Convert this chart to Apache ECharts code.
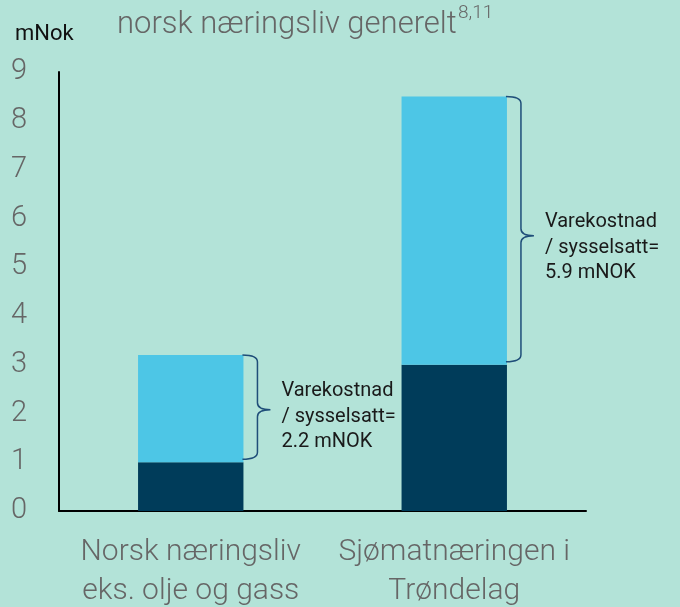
<!DOCTYPE html>
<html>
<head>
<meta charset="utf-8">
<script src="https://cdn.jsdelivr.net/npm/echarts@6/dist/echarts.min.js"></script>
<style>
  html, body { margin: 0; padding: 0; background: #b3e3d8; }
  #chart { width: 680px; height: 607px; }
</style>
</head>
<body>
<div id="chart"></div>
<script>
// Chart data
const categories = ['Norsk næringsliv\neks. olje og gass', 'Sjømatnæringen i\nTrøndelag'];
const baseValues = [1.0, 3.0];      // dark lower segment
const costValues = [2.2, 5.5];      // light upper segment (varekostnad)
const braceLabels = [
    'Varekostnad\n/ sysselsatt=\n2.2 mNOK',
    'Varekostnad\n/ sysselsatt=\n5.9 mNOK'
];
const yTicks = [0, 1, 2, 3, 4, 5, 6, 7, 8, 9];

const GRAY = '#666666';
const BAR_WIDTH_RATIO = 0.4;

const chart = echarts.init(document.getElementById('chart'), null, { renderer: 'canvas' });

// brace data: [category index, bottom, top]
const braceData = categories.map((c, i) => [i, baseValues[i], baseValues[i] + costValues[i]]);

/**
 * Draw a curly brace to the right of the upper bar segment
 */
function renderBrace(params, api) {
    const idx = api.value(0);
    const band = api.size([1, 0])[0];
    const center = api.coord([idx, 0])[0];
    const x0 = center + band * BAR_WIDTH_RATIO / 2 - 1;
    const yBot = api.coord([idx, api.value(1)])[1] - 3;
    const yTop = api.coord([idx, api.value(2)])[1];
    const h = yBot - yTop;
    // tip sits a little below the middle, the text a bit lower still
    const yMid = (yTop + yBot) / 2 + h * 0.025;
    const w = 15, tip = 13, r = 7;
    const xv = x0 + w;
    const path =
        `M${x0},${yTop} Q${xv},${yTop} ${xv},${yTop + r} ` +
        `L${xv},${yMid - r} Q${xv},${yMid} ${xv + tip},${yMid} ` +
        `Q${xv},${yMid} ${xv},${yMid + r} ` +
        `L${xv},${yBot - r} Q${xv},${yBot} ${x0},${yBot}`;
    return {
        type: 'group',
        children: [
            {
                type: 'path',
                shape: { pathData: path },
                style: { fill: null, stroke: '#1f4e79', lineWidth: 1.5 }
            },
            {
                type: 'text',
                x: xv + tip + 11,
                y: yMid + 4 + h * 0.03,
                style: {
                    text: braceLabels[idx],
                    fill: '#1a1a1a',
                    font: '20px Roboto',
                    lineHeight: 25.5,
                    verticalAlign: 'middle',
                    align: 'left'
                }
            }
        ]
    };
}

const option = {
    backgroundColor: '#b3e3d8',
    animation: false,
    title: {
        text: 'norsk næringsliv generelt',
        left: 112,
        top: 5,
        textStyle: { fontFamily: 'Roboto', fontWeight: 300, fontSize: 31, color: GRAY }
    },
    graphic: [
        {
            type: 'text',
            left: 15,
            top: 23,
            style: { text: 'mNok', font: '22px Roboto', fill: '#111' }
        },
        {
            type: 'text',
            left: 458,
            top: 4,
            style: { text: '8,11', font: '300 19px Roboto', fill: GRAY }
        }
    ],
    grid: {
        left: 59,
        right: 94,
        top: 72,
        bottom: 96,
        outerBoundsMode: 'none'
    },
    xAxis: {
        type: 'category',
        data: categories,
        axisLine: { lineStyle: { color: '#000', width: 2 } },
        axisTick: { show: false },
        axisLabel: {
            interval: 0,
            color: GRAY,
            fontFamily: 'Roboto',
            fontWeight: 300,
            fontSize: 30,
            lineHeight: 39,
            margin: 22
        }
    },
    yAxis: {
        type: 'value',
        min: yTicks[0],
        max: yTicks[yTicks.length - 1],
        interval: 1,
        axisLine: { show: true, lineStyle: { color: '#000', width: 2 } },
        axisTick: { show: false },
        splitLine: { show: false },
        axisLabel: {
            color: GRAY,
            fontFamily: 'Roboto',
            fontWeight: 300,
            fontSize: 29,
            align: 'center',
            margin: 40
        }
    },
    series: [
        {
            type: 'bar',
            stack: 'total',
            data: baseValues,
            barWidth: (BAR_WIDTH_RATIO * 100) + '%',
            itemStyle: { color: '#003c5a' }
        },
        {
            type: 'bar',
            stack: 'total',
            data: costValues,
            barWidth: (BAR_WIDTH_RATIO * 100) + '%',
            itemStyle: { color: '#4dc6e6' }
        },
        {
            type: 'custom',
            renderItem: renderBrace,
            data: braceData,
            encode: { x: 0, y: [1, 2] },
            z: 5
        }
    ]
};

chart.setOption(option);
window.addEventListener('resize', () => chart.resize());
</script>
</body>
</html>
